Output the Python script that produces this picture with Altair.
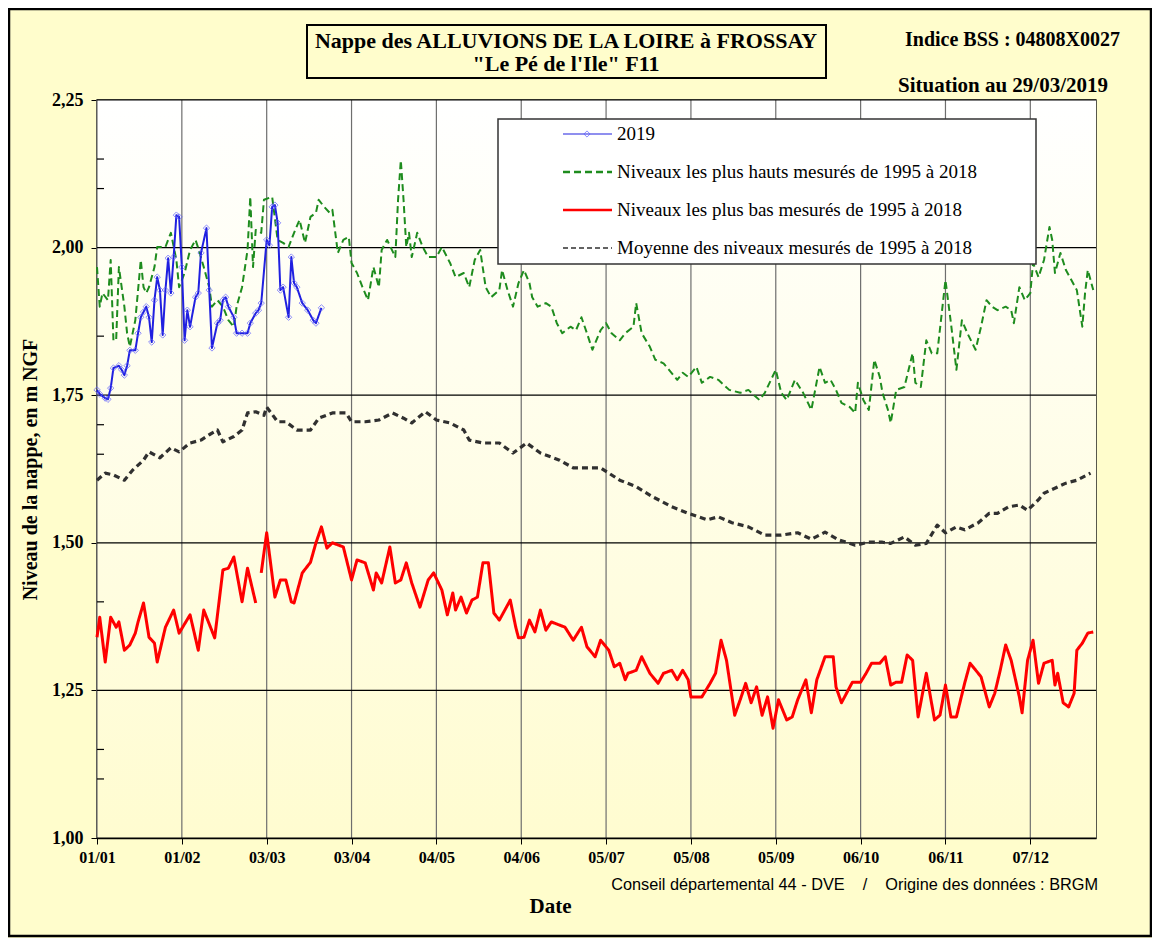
import altair as alt
import pandas as pd

SERIF = "Liberation Serif"
SANS = "Liberation Sans"

# ---------------- data ----------------
series_names = [
    "2019",
    "Niveaux les plus hauts mesurés de 1995 à 2018",
    "Niveaux les plus bas mesurés de 1995 à 2018",
    "Moyenne des niveaux mesurés de 1995 à 2018",
]
series_colors = ["#2020e0", "#1e8c1e", "#ff0000", "#303030"]
series_dash = [[1, 0], [7, 4], [1, 0], [6, 4]]
series_width = [2.0, 2.0, 3.0, 3.2]

x_tick_days = [0, 31, 62, 93, 124, 155, 186, 217, 248, 279, 310, 341]
x_tick_labels = ["01/01", "01/02", "03/03", "03/04", "04/05", "04/06",
                 "05/07", "05/08", "05/09", "06/10", "06/11", "07/12"]
y_major = [1.0, 1.25, 1.5, 1.75, 2.0, 2.25]
y_minor = [1.10, 1.15, 1.40, 1.65, 1.70, 1.85, 2.10, 2.15]

days_2019 = [0, 1, 3, 4, 5, 6, 8, 9, 10, 11, 12, 14, 15, 16, 17, 18, 19, 20, 21, 22,
             23, 24, 25, 26, 27, 28, 29, 30, 31, 32, 33, 34, 36, 37, 38, 40, 41, 42, 44, 45,
             46, 47, 48, 50, 51, 53, 55, 56, 58, 59, 60, 62, 63, 64, 65, 66, 67, 68, 70, 71,
             72, 73, 75, 77, 79, 80, 82]
niv_2019 = [1.759, 1.752, 1.745, 1.743, 1.762, 1.796, 1.800, 1.793, 1.784, 1.800, 1.826, 1.826,
            1.855, 1.882, 1.891, 1.900, 1.882, 1.840, 1.911, 1.950, 1.928, 1.852, 1.928, 1.982,
            1.923, 1.984, 2.055, 2.052, 1.967, 1.843, 1.894, 1.866, 1.916, 1.923, 1.991, 2.033,
            1.928, 1.830, 1.872, 1.877, 1.911, 1.916, 1.900, 1.882, 1.855, 1.855, 1.855, 1.872,
            1.889, 1.894, 1.906, 2.013, 2.004, 2.069, 2.072, 2.042, 1.928, 1.933, 1.882, 1.984,
            1.940, 1.933, 1.906, 1.894, 1.877, 1.872, 1.898]

days_max = [0, 1, 2, 4, 5, 6, 7, 8, 10, 11, 12, 14, 16, 17, 18, 19, 21, 22, 25, 27, 29, 30,
            32, 34, 36, 37, 39, 41, 42, 44, 46, 48, 50, 51, 53, 55, 56, 57, 58, 60, 61, 64, 66,
            68, 70, 72, 74, 76, 78, 80, 81, 83, 85, 86, 88, 90, 92, 93, 95, 97, 99, 101, 103,
            104, 106, 109, 110, 111, 112, 113, 114, 115, 117, 119, 121, 124, 126, 129, 131, 134,
            136, 138, 140, 142, 144, 147, 148, 150, 152, 154, 156, 158, 159, 161, 164, 166, 168,
            170, 173, 175, 177, 179, 181, 184, 186, 188, 191, 193, 196, 197, 199, 202, 204, 207,
            209, 212, 214, 216, 219, 221, 224, 227, 231, 235, 238, 242, 244, 248, 250, 252, 255,
            258, 261, 264, 266, 268, 270, 272, 275, 277, 278, 280, 282, 284, 286, 287, 289, 290,
            292, 295, 298, 299, 301, 303, 305, 307, 310, 312, 314, 316, 318, 321, 323, 325, 327,
            329, 332, 334, 335, 337, 339, 341, 342, 344, 346, 348, 349, 350, 352, 354, 356, 358,
            360, 361, 362, 364]
niv_max = [1.967, 1.900, 1.923, 1.911, 1.979, 1.843, 1.843, 1.967, 1.900, 1.855, 1.832, 1.877,
           1.979, 1.933, 1.923, 1.933, 1.967, 2.001, 2.001, 2.025, 1.979, 1.933, 1.957, 1.996,
           2.013, 1.999, 1.967, 1.933, 1.900, 1.911, 1.900, 1.877, 1.866, 1.900, 1.933, 1.996,
           2.086, 1.967, 2.030, 2.025, 2.081, 2.086, 2.013, 2.008, 2.001, 2.025, 2.047, 2.008,
           2.052, 2.059, 2.081, 2.069, 2.059, 2.064, 1.991, 2.013, 2.018, 1.974, 1.957, 1.933,
           1.911, 1.967, 1.933, 1.996, 2.013, 1.984, 2.081, 2.148, 2.081, 2.001, 2.025, 1.984,
           2.025, 2.001, 1.984, 1.984, 2.001, 1.974, 1.950, 1.957, 1.933, 1.979, 1.996, 1.933,
           1.916, 1.928, 1.962, 1.928, 1.900, 1.940, 1.962, 1.940, 1.916, 1.900, 1.906, 1.900,
           1.872, 1.855, 1.866, 1.860, 1.882, 1.855, 1.827, 1.860, 1.872, 1.855, 1.843, 1.855,
           1.866, 1.906, 1.855, 1.832, 1.810, 1.804, 1.793, 1.776, 1.788, 1.781, 1.798, 1.771,
           1.781, 1.776, 1.759, 1.754, 1.759, 1.742, 1.754, 1.793, 1.754, 1.742, 1.776, 1.754,
           1.725, 1.798, 1.771, 1.776, 1.759, 1.737, 1.730, 1.720, 1.771, 1.742, 1.725, 1.810,
           1.781, 1.754, 1.725, 1.703, 1.759, 1.764, 1.821, 1.771, 1.764, 1.843, 1.821, 1.821,
           1.945, 1.872, 1.793, 1.877, 1.855, 1.827, 1.866, 1.911, 1.900, 1.894, 1.900, 1.894,
           1.872, 1.933, 1.911, 1.923, 1.974, 1.950, 1.979, 2.035, 2.013, 1.957, 1.991, 1.962,
           1.945, 1.928, 1.866, 1.923, 1.962, 1.928]

days_min = [0, 1, 3, 5, 7, 8, 10, 12, 14, 15, 17, 19, 21, 22, 25, 28, 30, 34, 37, 39, 43, 46,
            48, 50, 53, 55, 58, 59, 60, 62, 65, 67, 69, 71, 72, 75, 78, 80, 82, 84, 86, 90, 93,
            95, 98, 101, 102, 104, 107, 109, 111, 113, 115, 118, 121, 123, 126, 128, 130, 131,
            133, 135, 137, 139, 141, 143, 145, 147, 149, 151, 153, 154, 156, 158, 160, 162, 164,
            166, 171, 174, 177, 179, 182, 184, 187, 189, 191, 193, 194, 197, 199, 202, 205, 207,
            210, 212, 214, 216, 217, 221, 224, 226, 228, 230, 233, 235, 237, 239, 241, 243, 245,
            247, 249, 252, 254, 256, 259, 261, 263, 266, 269, 270, 272, 276, 279, 281, 283, 286,
            288, 290, 292, 294, 296, 298, 300, 303, 306, 308, 310, 312, 314, 317, 319, 323, 326,
            328, 330, 332, 334, 337, 338, 340, 342, 344, 346, 349, 350, 351, 353, 355, 357, 358,
            360, 362, 364]
niv_min = [1.340, 1.374, 1.298, 1.374, 1.357, 1.366, 1.318, 1.327, 1.347, 1.366, 1.398, 1.340,
           1.330, 1.298, 1.357, 1.386, 1.347, 1.378, 1.318, 1.386, 1.339, 1.454, 1.457, 1.476,
           1.400, 1.457, 1.398, None, 1.449, 1.517, 1.408, 1.437, 1.437, 1.400, 1.398, 1.449,
           1.467, 1.500, 1.527, 1.491, 1.500, 1.493, 1.437, 1.471, 1.466, 1.420, 1.449, 1.432,
           1.493, 1.432, 1.437, 1.466, 1.432, 1.391, 1.437, 1.449, 1.420, 1.378, 1.415, 1.386,
           1.408, 1.381, 1.403, 1.408, 1.466, 1.466, 1.381, 1.369, 1.386, 1.403, 1.357, 1.339,
           1.340, 1.369, 1.349, 1.386, 1.352, 1.366, 1.357, 1.335, 1.357, 1.324, 1.307, 1.335,
           1.318, 1.290, 1.296, 1.268, 1.279, 1.284, 1.307, 1.279, 1.262, 1.279, 1.284, 1.268,
           1.284, 1.268, 1.239, 1.239, 1.262, 1.279, 1.335, 1.301, 1.208, 1.234, 1.262, 1.229,
           1.256, 1.208, 1.239, 1.186, 1.234, 1.200, 1.205, 1.234, 1.268, 1.212, 1.268, 1.307,
           1.307, 1.256, 1.229, 1.264, 1.264, 1.279, 1.296, 1.296, 1.307, 1.259, 1.264, 1.264,
           1.310, 1.301, 1.205, 1.279, 1.200, 1.208, 1.259, 1.205, 1.205, 1.262, 1.296, 1.273,
           1.222, 1.245, 1.284, 1.327, 1.301, 1.239, 1.212, 1.301, 1.335, 1.262, 1.296, 1.301,
           1.259, 1.279, 1.229, 1.222, 1.245, 1.318, 1.330, 1.347, 1.349]

days_moy = [0, 3, 6, 10, 13, 17, 19, 23, 27, 30, 34, 38, 41, 44, 46, 50, 53, 55, 58, 61, 62,
            66, 69, 73, 78, 81, 86, 91, 93, 98, 103, 108, 112, 115, 120, 124, 129, 134, 136,
            141, 147, 152, 157, 162, 169, 174, 184, 191, 197, 203, 210, 216, 223, 227, 232,
            238, 244, 250, 256, 261, 266, 271, 277, 282, 287, 290, 295, 299, 303, 307, 310,
            314, 317, 322, 326, 329, 333, 337, 340, 344, 346, 354, 358, 363]
niv_moy = [1.606, 1.618, 1.615, 1.606, 1.623, 1.640, 1.654, 1.644, 1.661, 1.654, 1.669, 1.674,
           1.683, 1.691, 1.671, 1.680, 1.691, 1.720, 1.722, 1.716, 1.730, 1.705, 1.705, 1.691,
           1.691, 1.711, 1.720, 1.720, 1.705, 1.705, 1.708, 1.720, 1.711, 1.703, 1.722, 1.708,
           1.703, 1.691, 1.674, 1.669, 1.669, 1.652, 1.669, 1.652, 1.640, 1.627, 1.627, 1.606,
           1.595, 1.578, 1.561, 1.550, 1.539, 1.544, 1.534, 1.527, 1.513, 1.513, 1.517, 1.506,
           1.518, 1.505, 1.496, 1.501, 1.501, 1.499, 1.510, 1.496, 1.499, 1.530, 1.517, 1.527,
           1.522, 1.534, 1.550, 1.550, 1.561, 1.564, 1.555, 1.573, 1.584, 1.601, 1.606, 1.618]

NB = "\u00a0"
title_lines = ["Nappe des ALLUVIONS DE LA LOIRE à FROSSAY", "\"Le Pé de l'Ile\" F11"]
indice_text = "Indice BSS : 04808X0027"
situation_text = "Situation au 29/03/2019"
credit_text = "Conseil départemental 44 - DVE" + NB * 4 + "/" + NB * 4 + "Origine des données : BRGM"
x_title = "Date"
y_title = "Niveau de la nappe, en m NGF"

# ---------------- helpers ----------------
W, H = 999, 738


def series_frame(days, vals):
    rows, seg = [], 0
    for d, v in zip(days, vals):
        if v is None:
            seg += 1
            continue
        rows.append({"day": d, "niv": v, "seg": seg})
    return pd.DataFrame(rows)


label_array = "[" + ",".join("'" + s + "'" for s in x_tick_labels) + "]"

x_axis = alt.Axis(
    values=x_tick_days, labelExpr=label_array + "[round(datum.value / 31)]",
    title=x_title, grid=False, tickSize=6, tickColor="#000", domainColor="#000",
    domainWidth=1.5, labelFont=SERIF, labelFontWeight="bold", labelFontSize=16,
    labelColor="#000", labelPadding=5, labelOverlap=False, labelFlush=False,
    titleFont=SERIF, titleFontSize=21, titleFontWeight="bold", titleColor="#000",
    titleX=453, titleY=74, titleBaseline="alphabetic", titleAlign="center")
y_axis = alt.Axis(
    values=y_major, labelExpr="replace(format(datum.value, '.2f'), '.', ',')",
    title=y_title, grid=False, tickSize=6, tickColor="#000", domainColor="#000",
    domainWidth=1.5, labelFont=SERIF, labelFontWeight="bold", labelFontSize=18,
    labelColor="#000", labelPadding=8, labelFlush=False,
    titleFont=SERIF, titleFontSize=20, titleFontWeight="bold", titleColor="#000",
    titleX=-67, titleY=369, titleAngle=270, titleAlign="center", titleBaseline="middle")

X = alt.X("day:Q", scale=alt.Scale(domain=[0, 365], nice=False, zero=False), axis=x_axis)
Y = alt.Y("niv:Q", scale=alt.Scale(domain=[1.0, 2.25], nice=False, zero=False), axis=y_axis)

one = alt.Data(values=[{}])


def text_layer(t, x, y, size, align="center", font=SERIF, weight="bold"):
    return alt.Chart(one).mark_text(
        text=t, align=align, baseline="middle", font=font, fontSize=size,
        fontWeight=weight, color="#000").encode(x=alt.value(x), y=alt.value(y))


layers = []

# plot background gradient
layers.append(alt.Chart(one).mark_rect(
    fill=alt.Gradient(gradient="linear", x1=0, x2=0, y1=0, y2=1,
                      stops=[alt.GradientStop(color="#ffffff", offset=0),
                             alt.GradientStop(color="#fffcd0", offset=1)])
).encode(x=alt.value(0), x2=alt.value(W), y=alt.value(0), y2=alt.value(H)))

# grid lines
layers.append(alt.Chart(pd.DataFrame({"day": x_tick_days})).mark_rule(
    color="#6e6e6e", strokeWidth=1.2).encode(x=X))
layers.append(alt.Chart(pd.DataFrame({"niv": y_major})).mark_rule(
    color="#000", strokeWidth=1.2).encode(y=Y))
layers.append(alt.Chart(pd.DataFrame({"niv": y_minor})).mark_rule(
    color="#000", strokeWidth=1.2).encode(y=Y, x=alt.value(0), x2=alt.value(7)))

# series (drawing order: max, mean, min, 2019)
frames = {
    1: series_frame(days_max, niv_max),
    3: series_frame(days_moy, niv_moy),
    2: series_frame(days_min, niv_min),
    0: series_frame(days_2019, niv_2019),
}
for idx, df in frames.items():
    layers.append(alt.Chart(df).mark_line(
        color=series_colors[idx], strokeDash=series_dash[idx],
        strokeWidth=series_width[idx], strokeJoin="round"
    ).encode(x=X, y=Y, detail="seg:N"))
    if idx == 0:
        layers.append(alt.Chart(df).mark_point(
            shape="diamond", filled=False, size=40, strokeWidth=1, color="#6060ff"
        ).encode(x=X, y=Y))

# legend box
layers.append(alt.Chart(one).mark_rect(fill="#ffffff", stroke="#333", strokeWidth=1.5)
              .encode(x=alt.value(401), x2=alt.value(939), y=alt.value(19), y2=alt.value(164)))
for i, name in enumerate(series_names):
    ly = 34 + 38 * i
    layers.append(alt.Chart(one).mark_rule(
        color=series_colors[i], strokeDash=series_dash[i] if i != 3 else [5, 3],
        strokeWidth=[1.2, 2.6, 2.4, 1.3][i]
    ).encode(x=alt.value(466), x2=alt.value(515), y=alt.value(ly), y2=alt.value(ly)))
    if i == 0:
        layers.append(alt.Chart(one).mark_point(
            shape="diamond", filled=False, size=38, strokeWidth=1, color="#6060ff"
        ).encode(x=alt.value(490), y=alt.value(ly)))
    layers.append(text_layer(name, 520, ly, 19, align="left", weight="normal"))

# title box and header texts
layers.append(alt.Chart(one).mark_rect(fill="#fffdcc", stroke="#000", strokeWidth=2)
              .encode(x=alt.value(210), x2=alt.value(729), y=alt.value(-75), y2=alt.value(-22)))
layers.append(text_layer(title_lines[0], 469, -59, 22))
layers.append(text_layer(title_lines[1], 469, -36, 22))
layers.append(text_layer(indice_text, 1023, -60, 20, align="right"))
layers.append(text_layer(situation_text, 1011, -14, 21, align="right"))
layers.append(text_layer(credit_text, 1001, 785, 16.3, align="right", font=SANS, weight="normal"))

# outer frame
layers.append(alt.Chart(one).mark_rect(fill=None, stroke="#000", strokeWidth=2.5)
              .encode(x=alt.value(-88), x2=alt.value(1054), y=alt.value(-91), y2=alt.value(836)))

chart = alt.layer(*layers).properties(
    width=W, height=H,
    padding={"left": 89, "top": 92, "right": 56, "bottom": 100},
    autosize=alt.AutoSizeParams(type="none"),
    background="#fffdcc",
).configure_view(stroke="#222", strokeWidth=1.5)

chart.save("out.html", embed_options={"renderer": "svg", "actions": False})
